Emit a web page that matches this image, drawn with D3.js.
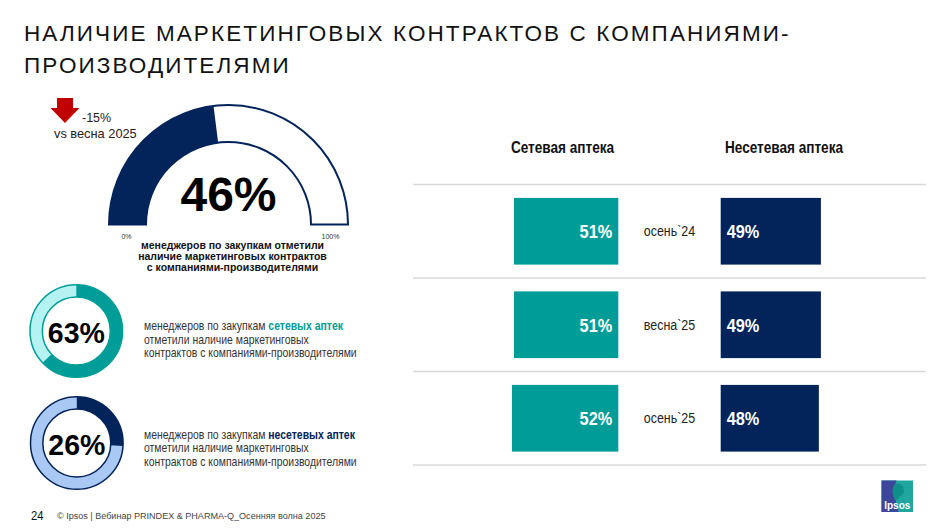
<!DOCTYPE html>
<html><head><meta charset="utf-8">
<script src="https://cdn.jsdelivr.net/npm/d3@7"></script>
<style>
html,body{margin:0;padding:0;background:#fff;}
svg{display:block;}
text{font-family:"Liberation Sans",Arial,sans-serif;}
</style></head>
<body>
<svg id="c" width="943" height="529"></svg>
<script>
// ---- data ----
const titleLines = ["НАЛИЧИЕ МАРКЕТИНГОВЫХ КОНТРАКТОВ С КОМПАНИЯМИ-", "ПРОИЗВОДИТЕЛЯМИ"];
const gaugeValue = 46;
const gaugeChange = "-15%";
const gaugeChangeLabel = "vs весна 2025";
const gaugeCaption = ["менеджеров по закупкам отметили", "наличие маркетинговых контрактов", "с компаниями-производителями"];
const donutValues = [63, 26];
const donutKeywords = ["сетевых аптек", "несетевых аптек"];
const donutLine1Prefix = "менеджеров по закупкам ";
const donutRest = ["отметили наличие маркетинговых", "контрактов с компаниями-производителями"];
const columnHeaders = ["Сетевая аптека", "Несетевая аптека"];
const periods = ["осень`24", "весна`25", "осень`25"];
const chainValues = [51, 51, 52];
const nonChainValues = [49, 49, 48];
const footerPage = "24";
const footerText = "© Ipsos | Вебинар PRINDEX & PHARMA-Q_Осенняя волна 2025";

// ---- colours ----
const NAVY = "#03245a", TEAL = "#009d98", LCYAN = "#b5f3f3", LBLUE = "#a9c8f4", RED = "#c00000";

const svg = d3.select("#c");

// condensed text helper (no narrow font installed)
function nt(parent, x, y, sx) {
  return parent.append("text").attr("transform", `translate(${x},${y}) scale(${sx},1)`);
}

// title
svg.append("g").selectAll("text").data(titleLines).join("text")
  .attr("x", 24).attr("y", (d, i) => 41 + i * 32)
  .attr("font-size", 22.5).attr("letter-spacing", 2.1).attr("fill", "#111").text(d => d);

// ---- gauge ----
const gx = 228.5, gy = 224.5;
const gaugeAngle = d3.scaleLinear().domain([0, 100]).range([-Math.PI / 2, Math.PI / 2]);
const gArc = d3.arc().innerRadius(82.5).outerRadius(119.5);
const gg = svg.append("g").attr("transform", `translate(${gx},${gy})`);
gg.append("path").attr("d", gArc({startAngle: gaugeAngle(0), endAngle: gaugeAngle(100)}))
  .attr("fill", "#fff").attr("stroke", NAVY).attr("stroke-width", 2);
gg.append("path").attr("d", gArc({startAngle: gaugeAngle(0), endAngle: gaugeAngle(gaugeValue)}))
  .attr("fill", NAVY);
gg.append("text").attr("x", 0).attr("y", -14).attr("text-anchor", "middle")
  .attr("font-size", 48).attr("font-weight", "bold").attr("fill", "#000").text(gaugeValue + "%");
gg.append("text").attr("x", -102).attr("y", 14).attr("text-anchor", "middle")
  .attr("font-size", 7).attr("fill", "#333").text("0%");
gg.append("text").attr("x", 102).attr("y", 14).attr("text-anchor", "middle")
  .attr("font-size", 7).attr("fill", "#333").text("100%");
gg.selectAll("text.cap").data(gaugeCaption).join("text").attr("class", "cap")
  .attr("x", 4).attr("y", (d, i) => 24 + i * 11).attr("text-anchor", "middle")
  .attr("font-size", 10.5).attr("font-weight", "bold").attr("fill", "#111").text(d => d);

// red arrow + change
svg.append("path").attr("d", "M57,98 L73,98 L73,108 L79.5,108 L65,123 L50.5,108 L57,108 Z").attr("fill", RED);
svg.append("text").attr("x", 82).attr("y", 122).attr("font-size", 12.5).attr("fill", "#222").text(gaugeChange);
svg.append("text").attr("x", 54).attr("y", 138).attr("font-size", 12.8).attr("fill", "#222").text(gaugeChangeLabel);

// ---- donuts ----
const donutCfg = [
  {cx: 76.3, cy: 331, main: TEAL, light: LCYAN, stroke: TEAL, ty: 330},
  {cx: 76.8, cy: 443, main: NAVY, light: LBLUE, stroke: NAVY, ty: 438.5}
];
const dAngle = d3.scaleLinear().domain([0, 100]).range([0, 2 * Math.PI]);
const dArc = d3.arc().innerRadius(34).outerRadius(46.3);
donutValues.forEach((v, i) => {
  const c = donutCfg[i];
  const g = svg.append("g").attr("transform", `translate(${c.cx},${c.cy})`);
  g.append("path").attr("d", dArc({startAngle: 0, endAngle: 2 * Math.PI})).attr("fill", c.light);
  g.append("path").attr("d", dArc({startAngle: 0, endAngle: dAngle(v)})).attr("fill", c.main);
  g.append("circle").attr("r", 34).attr("fill", "#fff").attr("stroke", c.stroke).attr("stroke-width", 1.5);
  g.append("circle").attr("r", 46.3).attr("fill", "none").attr("stroke", c.stroke).attr("stroke-width", 1.5);
  g.append("text").attr("y", 12).attr("text-anchor", "middle")
    .attr("font-size", 30).attr("font-weight", "bold").attr("fill", "#000")
    .attr("textLength", 57).attr("lengthAdjust", "spacingAndGlyphs").text(v + "%");
  const t = nt(svg, 144, c.ty, 0.87).attr("font-size", 12).attr("fill", "#333");
  t.append("tspan").text(donutLine1Prefix);
  t.append("tspan").attr("font-weight", "bold").attr("fill", c.main).text(donutKeywords[i]);
  donutRest.forEach((r, k) => {
    nt(svg, 144, c.ty + (k + 1) * 13.5, 0.87).attr("font-size", 12).attr("fill", "#333").text(r);
  });
});

// ---- right table ----
const rowScale = d3.scaleBand().domain(periods).range([184.5, 465]).paddingInner(0.2866).paddingOuter(0.1433);
const barW = d3.scaleLinear().domain([0, 100]).range([0, 204.5]);
const chainRight = 618.3, nonLeft = 720.7;
const step = rowScale.step();
const lineYs = periods.map(p => rowScale(p) - rowScale.paddingOuter() * step).concat([465]);
svg.append("g").selectAll("line").data(lineYs).join("line")
  .attr("x1", 413).attr("x2", 926).attr("y1", d => d).attr("y2", d => d)
  .attr("stroke", "#d9d9d9").attr("stroke-width", 1.5);

columnHeaders.forEach((h, i) => {
  nt(svg, i === 0 ? 562.5 : 784, 153, 0.85).attr("text-anchor", "middle")
    .attr("font-size", 16).attr("font-weight", "bold").attr("fill", "#111").text(h);
});

const rows = svg.append("g");
periods.forEach((p, i) => {
  const y = rowScale(p), h = rowScale.bandwidth();
  rows.append("rect").attr("x", chainRight - barW(chainValues[i])).attr("y", y)
    .attr("width", barW(chainValues[i])).attr("height", h).attr("fill", TEAL);
  rows.append("rect").attr("x", nonLeft).attr("y", y)
    .attr("width", barW(nonChainValues[i])).attr("height", h).attr("fill", NAVY);
  nt(rows, chainRight - 6, y + h / 2 + 7, 0.86).attr("text-anchor", "end")
    .attr("font-size", 19).attr("font-weight", "bold").attr("fill", "#fff").text(chainValues[i] + "%");
  nt(rows, nonLeft + 6, y + h / 2 + 7, 0.86)
    .attr("font-size", 19).attr("font-weight", "bold").attr("fill", "#fff").text(nonChainValues[i] + "%");
  nt(rows, 669.5, y + h / 2 + 5, 0.83).attr("text-anchor", "middle")
    .attr("font-size", 15).attr("fill", "#222").text(p);
});

// ---- footer ----
nt(svg, 31, 520, 0.9).attr("font-size", 12.5).attr("fill", "#111").text(footerPage);
nt(svg, 57, 519, 0.955).attr("font-size", 9.5).attr("fill", "#444").text(footerText);

// logo
const lg = svg.append("g").attr("transform", "translate(881.5,480.5)");
lg.append("rect").attr("width", 31.5).attr("height", 31.5).attr("fill", "#1fa69f");
lg.append("path").attr("d", "M0,0 L15,0 C12,8 13,18 17,31.5 L0,31.5 Z").attr("fill", "#3c479c");
lg.append("path").attr("d", "M13,4 C18,2 23,5 22,10 C24,12 22,13 21,13 C21,16 18,16 17,16 L17,19 L13,19 C11,14 10,8 13,4 Z").attr("fill", "#0f8f8a");
lg.append("text").attr("x", 15.75).attr("y", 28).attr("text-anchor", "middle")
  .attr("font-size", 10).attr("font-weight", "bold").attr("fill", "#fff").text("Ipsos");
</script>
</body></html>
